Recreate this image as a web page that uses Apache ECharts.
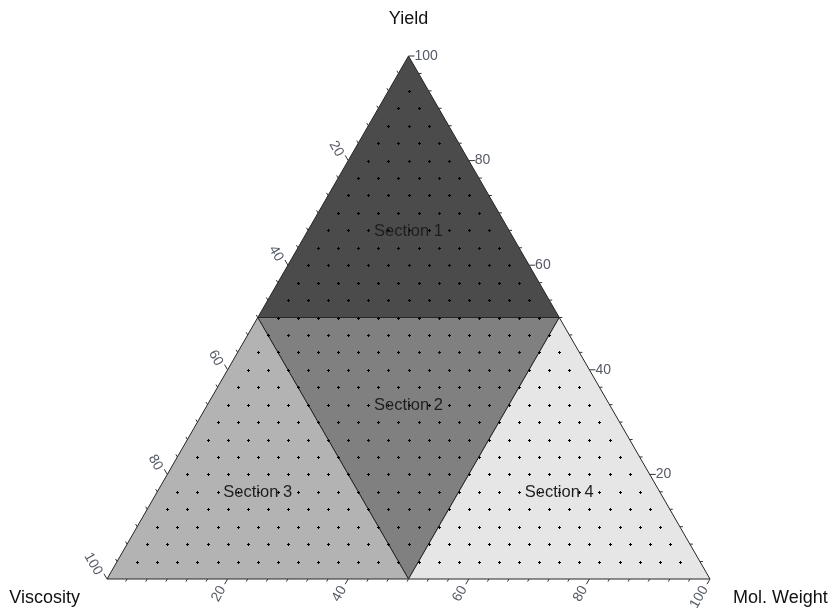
<!DOCTYPE html>
<html>
<head>
<meta charset="utf-8">
<script src="https://cdn.jsdelivr.net/npm/echarts@6/dist/echarts.min.js"></script>
<style>
  html, body { margin: 0; padding: 0; background: #ffffff; }
  #chart { width: 831px; height: 608px; }
</style>
</head>
<body>
<div id="chart"></div>
<script>
// Ternary axes; every point is given as [Mol. Weight, Yield, Viscosity] in percent
const cornerNames = ['Mol. Weight', 'Yield', 'Viscosity'];

// Regions of the diagram and their vertices
const sectionNames = ['Section 1', 'Section 2', 'Section 3', 'Section 4'];
const sectionVertices = [
  [[0, 100, 0], [0, 50, 50], [50, 50, 0]],
  [[0, 50, 50], [50, 50, 0], [50, 0, 50]],
  [[0, 50, 50], [0, 0, 100], [50, 0, 50]],
  [[50, 50, 0], [50, 0, 50], [100, 0, 0]]
];
const sectionColors = ['#4b4b4b', '#808080', '#b3b3b3', '#e6e6e6'];

// Axis tick labels (same for all three sides)
const tickLabels = [20, 40, 60, 80, 100];
// Number of lattice steps along each side (ticks and dot grid)
const gridDivisions = 30;

const H = Math.sqrt(3) / 2;
// Ternary -> cartesian (x in 0..100, y in 0..86.6)
function toXY(t) {
  return [t[0] + t[1] / 2, t[1] * H];
}

// Dot grid on the interior lattice points
const dotData = [];
for (let i = 1; i < gridDivisions; i++) {
  for (let j = 1; i + j < gridDivisions; j++) {
    const step = 100 / gridDivisions;
    dotData.push(toXY([j * step, i * step, 100 - (i + j) * step]));
  }
}

// Side positions: 0 = bottom (Mol. Weight), 1 = right (Yield), 2 = left (Viscosity)
function sidePoint(side, v) {
  if (side === 0) return toXY([v, 0, 100 - v]);
  if (side === 1) return toXY([100 - v, v, 0]);
  return toXY([0, 100 - v, v]);
}

const tickData = [];
for (let side = 0; side < 3; side++) {
  for (let k = 1; k <= gridDivisions; k++) {
    const v = k * 100 / gridDivisions;
    const major = tickLabels.some(t => Math.abs(t - v) < 1e-6) ? 1 : 0;
    const p = sidePoint(side, v);
    tickData.push([p[0], p[1], side, major]);
  }
}

const tickLabelData = [];
for (let side = 0; side < 3; side++) {
  tickLabels.forEach(v => {
    const p = sidePoint(side, v);
    tickLabelData.push([p[0], p[1], side, v]);
  });
}

const sectionData = sectionVertices.map((verts, i) => {
  const pts = verts.map(toXY);
  return [
    (pts[0][0] + pts[1][0] + pts[2][0]) / 3,
    (pts[0][1] + pts[1][1] + pts[2][1]) / 3,
    i
  ];
});

const cornerData = [
  toXY([100, 0, 0]).concat([0]),
  toXY([0, 100, 0]).concat([1]),
  toXY([0, 0, 100]).concat([2])
];

// Tick direction per side (screen pixels), following the constant-value lines outward
const tickDir = [[-0.5, 0.866], [1, 0], [-0.5, -0.866]];

const chart = echarts.init(document.getElementById('chart'), null, { renderer: 'canvas' });

chart.setOption({
  animation: false,
  backgroundColor: '#ffffff',
  grid: { left: 107, top: 56, width: 603, height: 523, containLabel: false },
  xAxis: { type: 'value', min: 0, max: 100, show: false },
  yAxis: { type: 'value', min: 0, max: 100 * H, show: false },
  series: [
    {
      type: 'custom',
      name: 'sections',
      silent: true,
      z: 1,
      data: sectionData,
      encode: { x: 0, y: 1 },
      renderItem: function (params, api) {
        const idx = api.value(2);
        const pts = sectionVertices[idx].map(t => api.coord(toXY(t)));
        return {
          type: 'polygon',
          shape: { points: pts },
          style: { fill: sectionColors[idx], stroke: '#262626', lineWidth: 1 }
        };
      }
    },
    {
      type: 'custom',
      name: 'grid',
      silent: true,
      z: 2,
      data: dotData,
      encode: { x: 0, y: 1 },
      renderItem: function (params, api) {
        const p = api.coord([api.value(0), api.value(1)]);
        const x = Math.round(p[0]);
        const y = Math.round(p[1]);
        // small plus-shaped marker
        return {
          type: 'group',
          children: [
            { type: 'rect', shape: { x: x - 1, y: y, width: 3, height: 1 }, style: { fill: '#000000' } },
            { type: 'rect', shape: { x: x, y: y - 1, width: 1, height: 3 }, style: { fill: '#000000' } }
          ]
        };
      }
    },
    {
      type: 'custom',
      name: 'ticks',
      silent: true,
      z: 3,
      data: tickData,
      encode: { x: 0, y: 1 },
      renderItem: function (params, api) {
        const p = api.coord([api.value(0), api.value(1)]);
        const d = tickDir[api.value(2)];
        const len = api.value(3) ? 6 : 3;
        return {
          type: 'line',
          shape: { x1: p[0], y1: p[1], x2: p[0] + d[0] * len, y2: p[1] + d[1] * len },
          style: { stroke: '#333333', lineWidth: 1 }
        };
      }
    },
    {
      type: 'custom',
      name: 'tickLabels',
      silent: true,
      z: 4,
      data: tickLabelData,
      encode: { x: 0, y: 1 },
      renderItem: function (params, api) {
        const p = api.coord([api.value(0), api.value(1)]);
        const side = api.value(2);
        const text = String(api.value(3));
        const font = '14px "Liberation Sans", Arial, sans-serif';
        if (side === 1) {
          return {
            type: 'text', x: p[0] + 6, y: p[1],
            style: { text: text, font: font, fill: '#555a66', align: 'left', verticalAlign: 'middle' }
          };
        }
        if (side === 0) {
          return {
            type: 'text', x: p[0] - 5, y: p[1] + 8, rotation: Math.PI / 3,
            style: { text: text, font: font, fill: '#555a66', align: 'right', verticalAlign: 'middle' }
          };
        }
        return {
          type: 'text', x: p[0] - 8, y: p[1] - 5, rotation: -Math.PI / 3,
          style: { text: text, font: font, fill: '#555a66', align: 'right', verticalAlign: 'middle' }
        };
      }
    },
    {
      type: 'custom',
      name: 'sectionLabels',
      silent: true,
      z: 5,
      data: sectionData,
      encode: { x: 0, y: 1 },
      renderItem: function (params, api) {
        const p = api.coord([api.value(0), api.value(1)]);
        return {
          type: 'text', x: p[0], y: p[1] + 1,
          style: {
            text: sectionNames[api.value(2)],
            font: '16.5px "Liberation Sans", Arial, sans-serif',
            fill: '#1e1e1e', align: 'center', verticalAlign: 'middle'
          }
        };
      }
    },
    {
      type: 'custom',
      name: 'corners',
      silent: true,
      z: 5,
      data: cornerData,
      encode: { x: 0, y: 1 },
      renderItem: function (params, api) {
        const p = api.coord([api.value(0), api.value(1)]);
        const c = api.value(2);
        const font = '18px "Liberation Sans", Arial, sans-serif';
        const offs = [[23, 19, 'left'], [0, -37, 'center'], [-27, 19, 'right']];
        return {
          type: 'text', x: p[0] + offs[c][0], y: p[1] + offs[c][1],
          style: {
            text: cornerNames[c], font: font, fill: '#111111',
            align: offs[c][2], verticalAlign: 'middle'
          }
        };
      }
    }
  ]
});
</script>
</body>
</html>
